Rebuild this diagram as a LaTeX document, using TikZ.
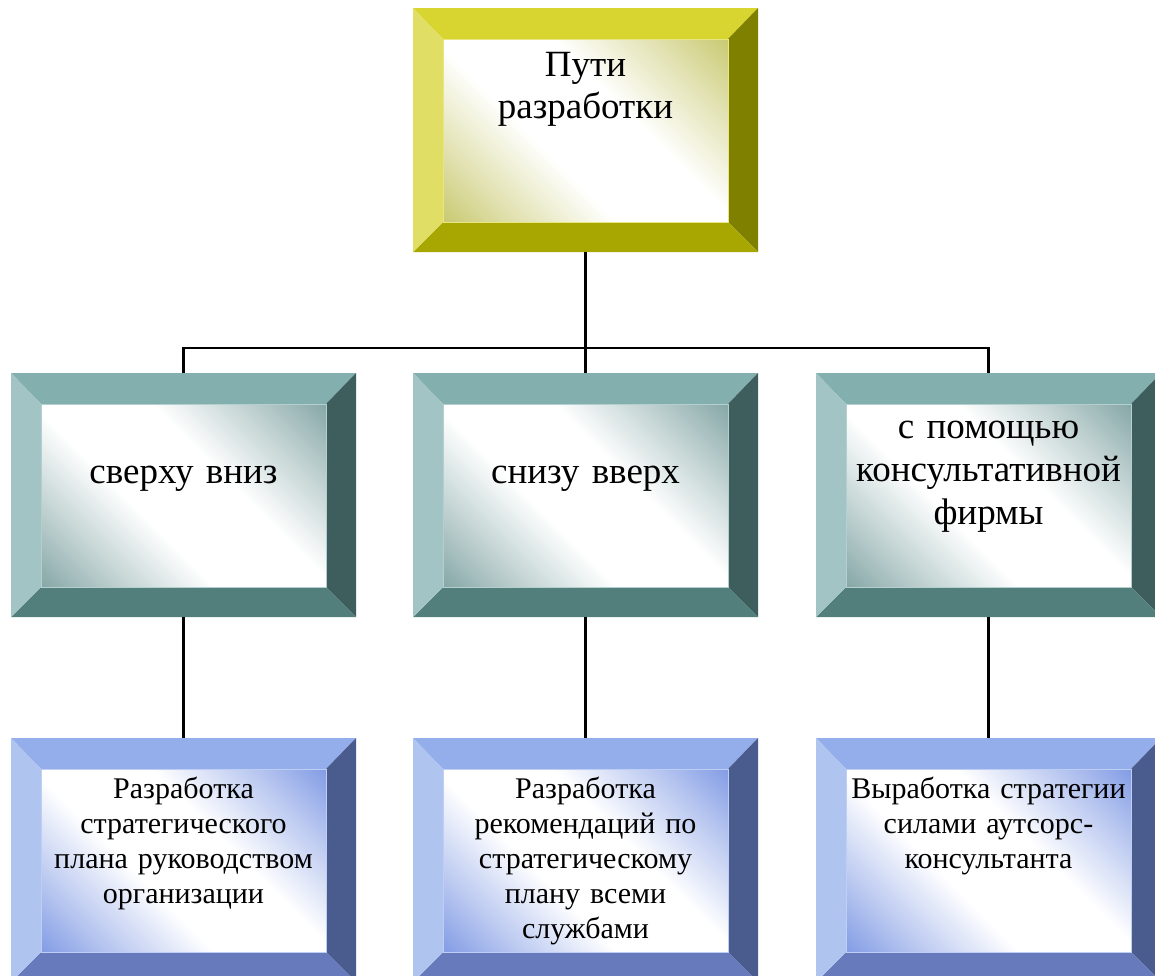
\documentclass[tikz,border=0pt]{standalone}
\usepackage{fontspec}
\setmainfont{Liberation Serif}
\usepackage{tikz}
\usetikzlibrary{positioning, calc}

% bevel palettes: top, left, right, bottom face and the tint of the inner panel
\definecolor{rootTop}{RGB}{216,213,48}
\definecolor{rootLeft}{RGB}{224,222,100}
\definecolor{rootRight}{RGB}{128,128,0}
\definecolor{rootBottom}{RGB}{168,166,0}
\definecolor{rootTint}{RGB}{196,196,100}
\definecolor{wayTop}{RGB}{132,175,175}
\definecolor{wayLeft}{RGB}{162,196,196}
\definecolor{wayRight}{RGB}{62,94,94}
\definecolor{wayBottom}{RGB}{82,126,124}
\definecolor{wayTint}{RGB}{122,158,158}
\definecolor{leafTop}{RGB}{148,174,235}
\definecolor{leafLeft}{RGB}{176,196,240}
\definecolor{leafRight}{RGB}{74,92,142}
\definecolor{leafBottom}{RGB}{102,122,188}
\definecolor{leafTint}{RGB}{118,146,226}

% inner panel: tinted corners, wide white band on the diagonal
\colorlet{bvTint}{white}
\colorlet{bvHaze}{white}
\pgfdeclareverticalshading[bvTint,bvHaze]{bevelglow}{100bp}{%
  color(0bp)=(bvTint); color(12bp)=(bvTint); color(26bp)=(bvHaze);
  color(41bp)=(white); color(59bp)=(white); color(74bp)=(bvHaze);
  color(88bp)=(bvTint); color(100bp)=(bvTint)}

\begin{document}
\begin{tikzpicture}[
    x=1pt, y=-1pt,
    node distance=121pt,
    bevel colors/.code n args={5}{%
      \colorlet{bvTop}{#1}\colorlet{bvLeft}{#2}\colorlet{bvRight}{#3}%
      \colorlet{bvBottom}{#4}\colorlet{bvTint}{#5}\colorlet{bvHaze}{#5!50!white}},
    bevelbox/.style={rectangle, inner sep=0pt, outer sep=0pt, fill=white,
      minimum width=345pt, minimum height=244pt,
      path picture={
        \coordinate (bA) at (path picture bounding box.north west);
        \coordinate (bC) at (path picture bounding box.south east);
        \coordinate (bB) at (bC |- bA);
        \coordinate (bD) at (bA |- bC);
        \coordinate (ia) at ($(bA)+(30,31)$);
        \coordinate (ic) at ($(bC)+(-30,-30)$);
        \coordinate (ib) at (ic |- ia);
        \coordinate (id) at (ia |- ic);
        \fill[fill=bvTop] (bA) -- (bB) -- (ib) -- (ia) -- cycle;
        \fill[fill=bvRight] (bB) -- (bC) -- (ic) -- (ib) -- cycle;
        \fill[fill=bvBottom] (bD) -- (bC) -- (ic) -- (id) -- cycle;
        \fill[fill=bvLeft] (bA) -- (bD) -- (id) -- (ia) -- cycle;
        \shade[shading=bevelglow, shading angle=-45] (ia) rectangle (ic);
        \draw[bvTop!60!white, line width=0.6pt] (ia) rectangle (ic);
      }},
    rootbox/.style={bevelbox, bevel colors={rootTop}{rootLeft}{rootRight}{rootBottom}{rootTint}},
    waybox/.style={bevelbox, bevel colors={wayTop}{wayLeft}{wayRight}{wayBottom}{wayTint}},
    leafbox/.style={bevelbox, bevel colors={leafTop}{leafLeft}{leafRight}{leafBottom}{leafTint}},
    boxtext/.style={anchor=base, inner sep=0pt, text width=300pt, align=center},
    roottext/.style={boxtext, font=\fontsize{37}{42}\selectfont},
    waytext/.style={boxtext, font=\fontsize{37}{43}\selectfont},
    leaftext/.style={boxtext, font=\fontsize{30}{35}\selectfont},
    link/.style={draw=black, line width=2.2pt}
]

\fill[white] (0,0) rectangle (1155,975);
\useasboundingbox (0,0) rectangle (1155,975);
\clip (0,0) rectangle (1155,975);

% root
\node[rootbox] (root) at (585.5,130) {};
\node[roottext] (roottxt) at ($(root.north)+(0,68)$) {Пути\\разработки};

% ways of development
\node[waybox, below=of root] (bottomup) {};
\node[waybox, left=57pt of bottomup] (topdown) {};
\node[waybox, right=58pt of bottomup] (consult) {};
\node[waytext] (topdowntxt) at ($(topdown.north)+(0,110)$) {сверху вниз};
\node[waytext] (bottomuptxt) at ($(bottomup.north)+(0,110)$) {снизу вверх};
\node[waytext] (consulttxt) at ($(consult.north)+(0,65)$) {с помощью\\консультативной\\фирмы};

% what each way means
\node[leafbox, below=of topdown] (plan) {};
\node[leafbox, below=of bottomup] (advice) {};
\node[leafbox, below=of consult] (outsource) {};
\node[leaftext] (plantxt) at ($(plan.north)+(0,60)$) {Разработка\\стратегического\\плана руководством\\организации};
\node[leaftext] (advicetxt) at ($(advice.north)+(0,60)$) {Разработка\\рекомендаций по\\стратегическому\\плану всеми\\службами};
\node[leaftext] (outsourcetxt) at ($(outsource.north)+(0,60)$) {Выработка стратегии\\силами аутсорс-\\консультанта};

% connectors
\coordinate (bus) at ($(root.south)+(0,96)$);
\draw[link] (root) -- (bus);
\draw[link] (bus) -| (topdown);
\draw[link] (bus) -- (bottomup);
\draw[link] (bus) -| (consult);
\draw[link] (topdown) -- (plan);
\draw[link] (bottomup) -- (advice);
\draw[link] (consult) -- (outsource);

\end{tikzpicture}
\end{document}
